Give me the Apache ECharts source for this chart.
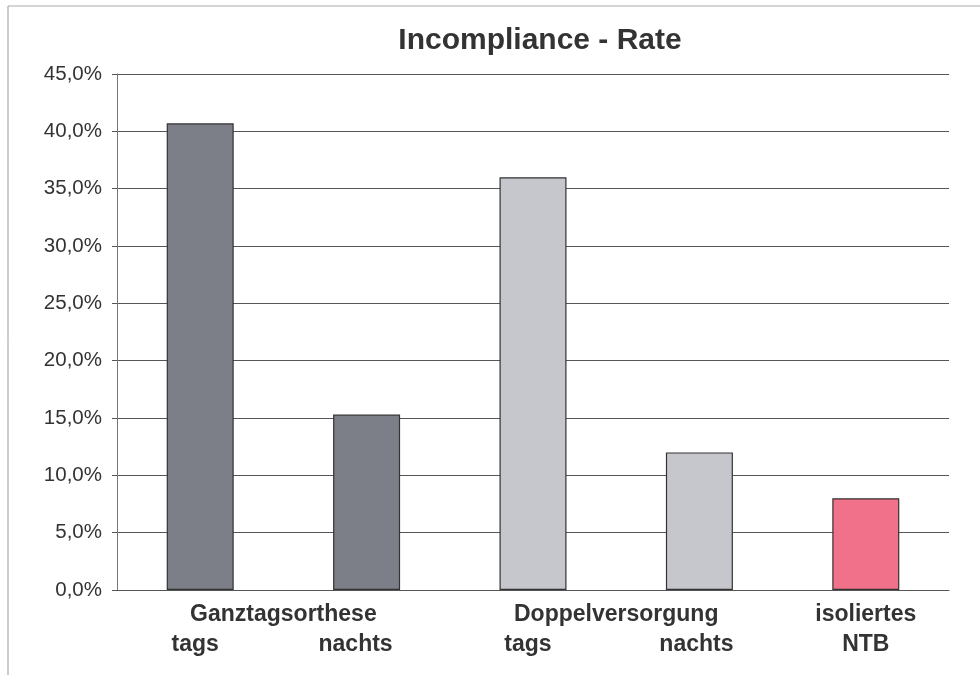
<!DOCTYPE html>
<html>
<head>
<meta charset="utf-8">
<script src="https://cdn.jsdelivr.net/npm/echarts@6/dist/echarts.min.js"></script>
<style>
html,body{margin:0;padding:0;background:#fff;}
#chart{width:980px;height:675px;}
</style>
</head>
<body>
<div id="chart"></div>
<script>
// Data
var categories = ['tags', 'nachts', 'tags', 'nachts', 'isoliertes\nNTB'];
var groupLabels = ['', 'Ganztagsorthese', '', 'Doppelversorgung', '', ''];
var values = [40.7, 15.3, 36.0, 12.0, 8.0];
var barColors = ['#7c7f87', '#7c7f87', '#c5c7cd', '#c5c7cd', '#f07189'];
var yTicks = [0, 5, 10, 15, 20, 25, 30, 35, 40, 45];

var chart = echarts.init(document.getElementById('chart'), null, {renderer: 'canvas'});
var fontFam = '"Liberation Sans", Arial, sans-serif';
var LH = 30;
function labStyle(pr) {
  return {fontFamily: fontFam, fontSize: 23, fontWeight: 'bold', color: '#333', lineHeight: LH, padding: [0, pr, 0, 0]};
}

chart.setOption({
  backgroundColor: '#fff',
  animation: false,
  title: {
    text: 'Incompliance - Rate',
    left: 535,
    textAlign: 'center',
    top: 21,
    textStyle: {fontFamily: fontFam, fontSize: 30, fontWeight: 'bold', color: '#333'}
  },
  grid: {left: 117, right: 31, top: 74, bottom: 85, containLabel: false},
  xAxis: [{
    type: 'category',
    data: categories,
    axisLine: {show: true, lineStyle: {color: '#555', width: 1}},
    axisTick: {show: false},
    axisLabel: {
      interval: 0,
      margin: 10,
      fontFamily: fontFam, fontSize: 23, fontWeight: 'bold', color: '#333',
      lineHeight: LH,
      rich: {p0: labStyle(10), p1: labStyle(22), p2: labStyle(10), p3: labStyle(6)},
      formatter: function (v, i) {
        if (v.indexOf('\n') >= 0) return v;
        return '\n{p' + i + '|' + v + '}';
      }
    }
  }, {
    type: 'value',
    position: 'bottom',
    min: 0, max: 5, interval: 1,
    axisLine: {show: false},
    axisTick: {show: false},
    splitLine: {show: false},
    axisLabel: {
      margin: 10,
      fontFamily: fontFam, fontSize: 23, fontWeight: 'bold', color: '#333',
      lineHeight: LH,
      formatter: function (v) { return groupLabels[Math.round(v)] + '\n'; }
    }
  }],
  yAxis: {
    type: 'value',
    min: 0, max: 45, interval: 5,
    axisLine: {show: true, lineStyle: {color: '#777', width: 1}},
    axisTick: {show: true, length: 5, lineStyle: {color: '#555'}},
    splitLine: {show: true, lineStyle: {color: '#555', width: 1}},
    axisLabel: {
      margin: 15,
      fontFamily: fontFam, fontSize: 20.5, color: '#333',
      formatter: function (v) { return v.toFixed(1).replace('.', ',') + '%'; }
    }
  },
  series: [{
    type: 'bar',
    xAxisIndex: 0,
    barWidth: 67,
    data: values.map(function (v, i) {
      return {value: v, itemStyle: {color: barColors[i], borderColor: '#333', borderWidth: 1.2}};
    })
  }],
  graphic: [
    {type: 'line', shape: {x1: 8, y1: 6, x2: 980, y2: 6}, style: {stroke: '#aaa', lineWidth: 1}, silent: true},
    {type: 'line', shape: {x1: 8, y1: 6, x2: 8, y2: 675}, style: {stroke: '#999', lineWidth: 1}, silent: true}
  ]
});
</script>
</body>
</html>
